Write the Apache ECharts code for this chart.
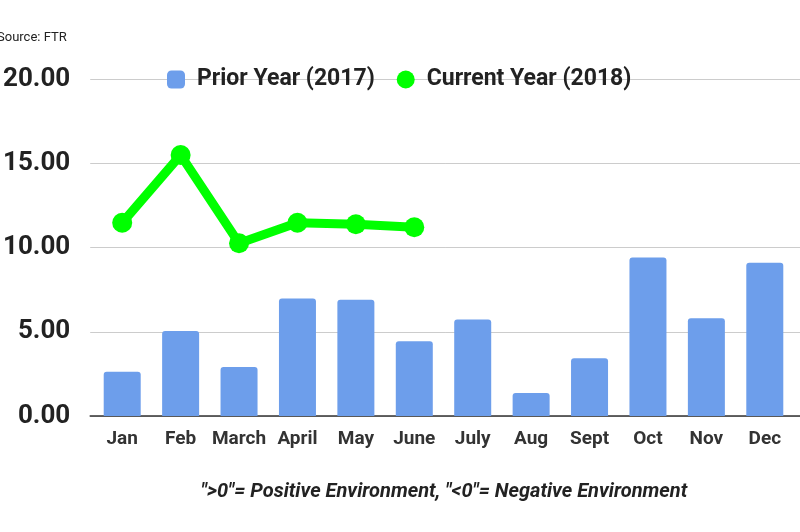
<!DOCTYPE html>
<html>
<head>
<meta charset="utf-8">
<script src="https://cdn.jsdelivr.net/npm/echarts@6/dist/echarts.min.js"></script>
<style>
  html, body { margin: 0; padding: 0; background: #fff; }
  #chart { width: 800px; height: 532px; }
</style>
</head>
<body>
<div id="chart"></div>
<script>
// data
const months = ['Jan', 'Feb', 'March', 'April', 'May', 'June', 'July', 'Aug', 'Sept', 'Oct', 'Nov', 'Dec'];
const prior2017 = [2.63, 5.04, 2.91, 6.98, 6.90, 4.43, 5.72, 1.36, 3.42, 9.40, 5.80, 9.10];
const current2018 = [11.47, 15.49, 10.25, 11.47, 11.38, 11.20];
const yTicks = { min: 0, max: 20, interval: 5 };

const font = 'Roboto, "Noto Sans", sans-serif';
const myChart = echarts.init(document.getElementById('chart'));

const option = {
  animation: false,
  textStyle: { fontFamily: font },
  title: [
    {
      text: 'Source: FTR',
      left: -3, top: 31, padding: 0,
      textStyle: { fontSize: 13, fontWeight: 'normal', color: '#222', fontFamily: font }
    },
    {
      text: '">0"= Positive Environment, "<0"= Negative Environment',
      left: 444, top: 482, textAlign: 'center', padding: 0,
      textStyle: { fontSize: 20, fontWeight: 'bold', fontStyle: 'italic', color: '#222', fontFamily: font }
    }
  ],
  legend: {
    left: 167, top: 68, padding: 0,
    itemWidth: 18, itemHeight: 18, itemGap: 22,
    textStyle: { fontSize: 23, fontWeight: 'bold', color: '#222', padding: [0, 0, 0, 7], fontFamily: font },
    data: [
      { name: 'Prior Year (2017)', icon: 'roundRect' },
      { name: 'Current Year (2018)', icon: 'circle' }
    ]
  },
  // grid 0: full-width gridlines + y labels, grid 1: the plotted categories
  grid: [
    { left: 83, right: 0, top: 79, bottom: 116 },
    { left: 93, right: 6, top: 79, bottom: 116 }
  ],
  xAxis: [
    {
      gridIndex: 0, type: 'value', min: 0, max: 1,
      axisLine: { show: true, lineStyle: { color: '#333', width: 1.5 } },
      axisTick: { show: false }, axisLabel: { show: false }, splitLine: { show: false }
    },
    {
      gridIndex: 1, type: 'category', data: months,
      axisLine: { show: false }, axisTick: { show: false },
      axisLabel: { interval: 0, fontSize: 19, fontWeight: 'bold', color: '#333', margin: 14, fontFamily: font }
    }
  ],
  yAxis: [
    {
      gridIndex: 0, type: 'value', min: yTicks.min, max: yTicks.max, interval: yTicks.interval,
      axisLine: { show: false }, axisTick: { show: false },
      axisLabel: {
        fontSize: 26, fontWeight: 'bold', color: '#222', margin: 20, fontFamily: font,
        formatter: v => v.toFixed(2)
      },
      splitLine: { lineStyle: { color: '#cccccc', width: 1 } }
    },
    {
      gridIndex: 1, type: 'value', min: yTicks.min, max: yTicks.max, interval: yTicks.interval,
      axisLine: { show: false }, axisTick: { show: false },
      axisLabel: { show: false }, splitLine: { show: false }
    }
  ],
  series: [
    {
      name: 'Prior Year (2017)',
      type: 'bar',
      xAxisIndex: 1, yAxisIndex: 1,
      barWidth: 37,
      data: prior2017,
      itemStyle: { color: '#6d9eeb', borderRadius: [3, 3, 0, 0] }
    },
    {
      name: 'Current Year (2018)',
      type: 'line',
      xAxisIndex: 1, yAxisIndex: 1,
      data: current2018,
      symbol: 'circle', symbolSize: 20,
      lineStyle: { color: '#00ff00', width: 9 },
      itemStyle: { color: '#00ff00' }
    }
  ]
};

myChart.setOption(option);
</script>
</body>
</html>
